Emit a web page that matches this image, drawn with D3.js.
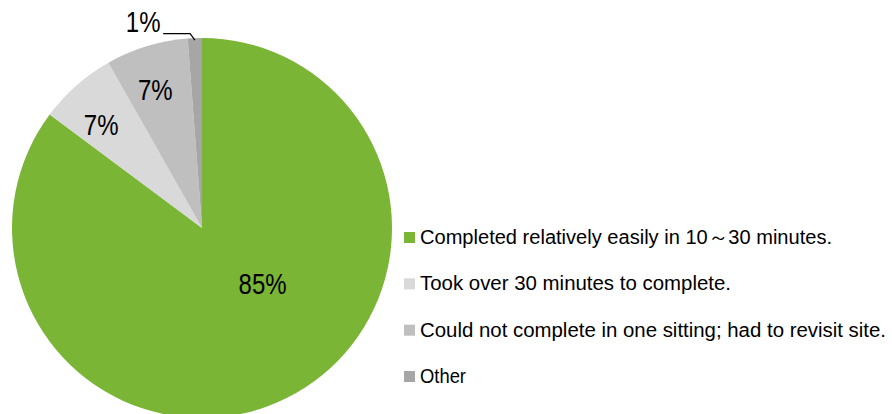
<!DOCTYPE html>
<html>
<head>
<meta charset="utf-8">
<script src="https://cdn.jsdelivr.net/npm/d3@7"></script>
<style>
  body { margin: 0; background: #fff; }
  svg text { font-family: "Liberation Sans", "Arial", sans-serif; fill: #000; }
</style>
</head>
<body>
<svg id="chart" width="892" height="414"></svg>
<script>
// data
var categories = [
  "Completed relatively easily in 10\uFF5E30 minutes.",
  "Took over 30 minutes to complete.",
  "Could not complete in one sitting; had to revisit site.",
  "Other"
];
var values = [85.2, 6.6, 7.0, 1.2];
var labels = ["85%", "7%", "7%", "1%"];
var colors = ["#7ab535", "#d9d9d9", "#bfbfbf", "#a6a6a6"];

var svg = d3.select("#chart");
var cx = 202, cy = 228, r = 190;

var pie = d3.pie().sort(null).value(function(d) { return d; });
var arcs = pie(values);

var arcDef = d3.arc().innerRadius(0).outerRadius(r);

var g = svg.append("g").attr("transform", "translate(" + cx + "," + cy + ")");

g.selectAll("path.slice")
  .data(arcs)
  .enter().append("path")
  .attr("class", "slice")
  .attr("d", arcDef)
  .attr("fill", function(d, i) { return colors[i]; });

// label placement: radius fraction + angle shift (radians) per slice
var labelRad = [0.43, 0.76, 0.77, 1.13];
var labelShift = [-0.37, -0.05, -0.03, -0.24];

function labelPoint(d, i) {
  var a = (d.startAngle + d.endAngle) / 2 + labelShift[i];
  var rr = r * labelRad[i];
  return [Math.sin(a) * rr, -Math.cos(a) * rr];
}

// narrow, tall looking percent labels
g.selectAll("text.pct")
  .data(arcs)
  .enter().append("text")
  .attr("class", "pct")
  .attr("transform", function(d, i) {
    var p = labelPoint(d, i);
    return "translate(" + p[0] + "," + p[1] + ") scale(0.8,1)";
  })
  .attr("text-anchor", "middle")
  .attr("dy", "0.36em")
  .style("font-size", "30px")
  .text(function(d, i) { return labels[i]; });

// leader line for the small slice
var small = arcs[3];
var sp = labelPoint(small, 3);
var edgeA = (small.startAngle + small.endAngle) / 2;
var edge = [Math.sin(edgeA) * (r - 2), -Math.cos(edgeA) * (r - 2)];
g.append("polyline")
  .attr("points", [[sp[0] + 20, sp[1] + 12], [sp[0] + 47, sp[1] + 12], edge].map(function(p) { return p.join(","); }).join(" "))
  .attr("fill", "none")
  .attr("stroke", "#000")
  .attr("stroke-width", 1.2);

// legend
var legendY = d3.scalePoint().domain(d3.range(categories.length)).range([237, 376]);
var legendW = [412, 311, 466, 46];
var legend = svg.append("g").attr("transform", "translate(404,0)");
var items = legend.selectAll("g.item")
  .data(categories)
  .enter().append("g")
  .attr("class", "item")
  .attr("transform", function(d, i) { return "translate(0," + legendY(i) + ")"; });

items.append("rect")
  .attr("x", 0).attr("y", -5)
  .attr("width", 11).attr("height", 11)
  .attr("fill", function(d, i) { return colors[i]; });

items.append("text")
  .attr("x", 16)
  .attr("y", 0)
  .attr("dy", "0.36em")
  .attr("textLength", function(d, i) { return legendW[i]; })
  .attr("lengthAdjust", "spacingAndGlyphs")
  .style("font-size", "19.5px")
  .text(function(d) { return d; });
</script>
</body>
</html>
